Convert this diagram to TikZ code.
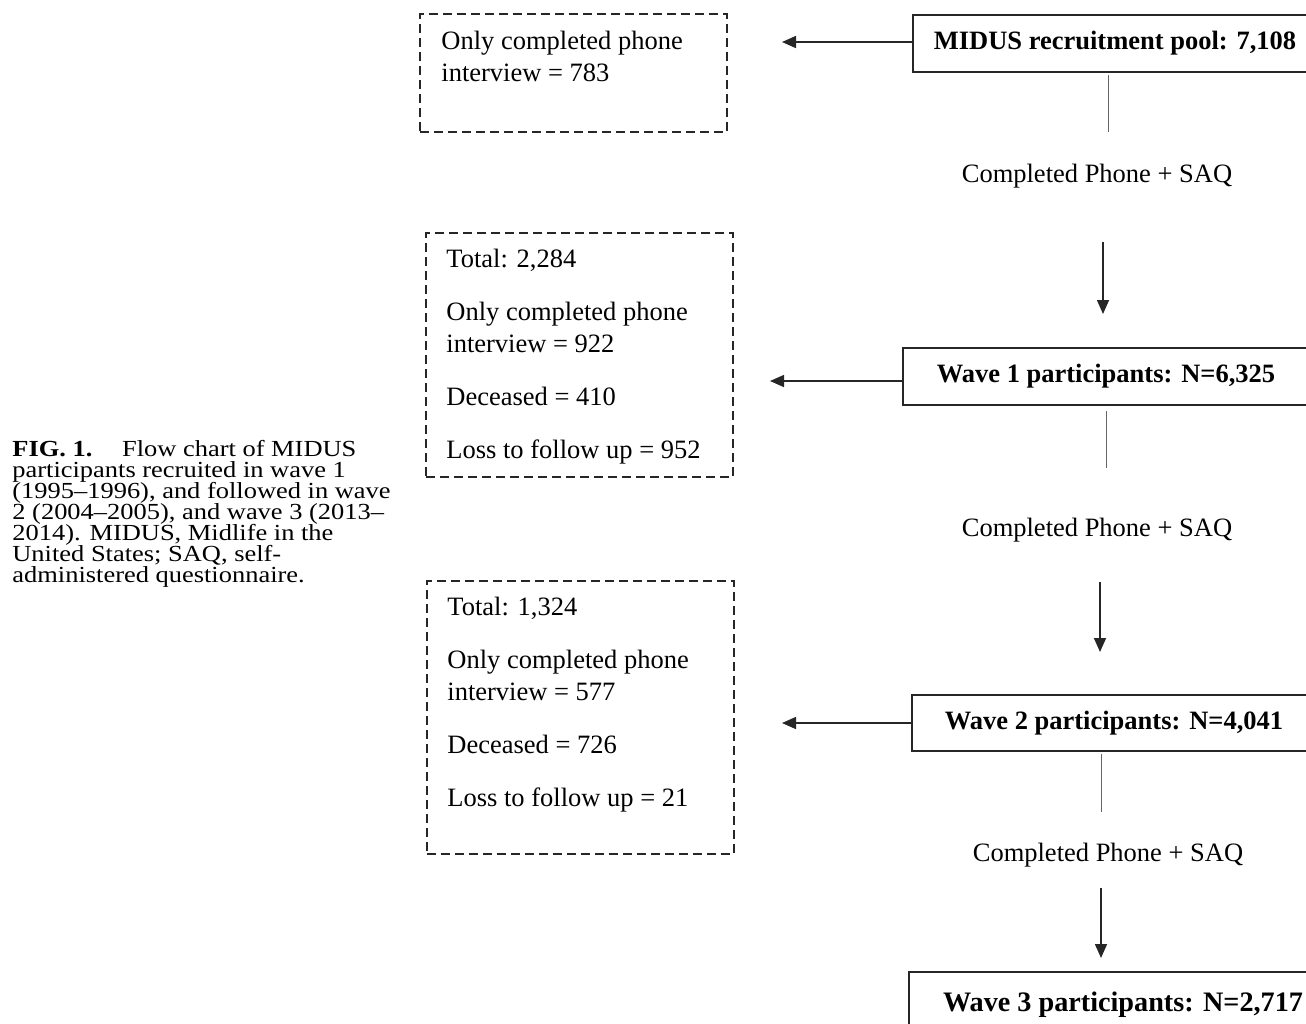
\documentclass[tikz,border=0pt]{standalone}
\usepackage{fontspec}
\setmainfont{Liberation Serif}
\newfontfamily\capfont[FakeStretch=1.15]{Liberation Serif}
\usetikzlibrary{arrows.meta}
\begin{document}
\lineskiplimit=-100pt
\begin{tikzpicture}[x=0.5pt,y=-0.5pt,
  solidbox/.style={draw=black!85, line width=1pt, inner sep=0pt, font=\fontsize{13.25}{15.9}\selectfont\bfseries},
  dashbox/.style={draw=black!85, line width=1pt, dash pattern=on 4.5pt off 2.5pt, inner sep=0pt},
  txt/.style={inner sep=0pt, anchor=base west, font=\fontsize{13.25}{15.9}\selectfont},
  lbl/.style={inner sep=0pt, font=\fontsize{13.25}{15.9}\selectfont},
  arr/.style={draw=black!85, line width=0.75pt, -{Triangle[length=7pt,width=6pt]}},
  conn/.style={draw=black!60, line width=0.5pt},
  captxt/.style={inner sep=0pt, anchor=base west, align=left, font=\capfont\fontsize{11.5}{10.5}\selectfont}
]
\useasboundingbox (0,0) rectangle (1306,1023);

% caption (base anchor = baseline of last line)
\node[captxt] (cap) at (12,582) {\textbf{FIG. 1.}\quad\ Flow chart of MIDUS\\
participants recruited in wave 1\\
(1995–1996), and followed in wave\\
2 (2004–2005), and wave 3 (2013–\\
2014). MIDUS, Midlife in the\\
United States; SAQ, self-\\
administered questionnaire.};

% solid boxes
\node[solidbox, minimum width=202pt, minimum height=28.5pt] (m0) at (1115,43.5) {MIDUS recruitment pool: 7,108};
\node[solidbox, minimum width=203pt, minimum height=28.5pt] (w1) at (1106,376.5) {Wave 1 participants: N=6,325};
\node[solidbox, minimum width=202pt, minimum height=28pt] (w2) at (1114,723) {Wave 2 participants: N=4,041};
\node[solidbox, minimum width=214pt, minimum height=33pt, font=\fontsize{14.1}{17}\selectfont\bfseries] (w3) at (1123,1005) {Wave 3 participants: N=2,717};

% dashed boxes
\node[dashbox, minimum width=153.5pt, minimum height=59pt] (d1) at (573.5,73) {};
\node[dashbox, minimum width=153.5pt, minimum height=122pt] (d2) at (579.5,355) {};
\node[dashbox, minimum width=153.5pt, minimum height=136.5pt] (d3) at (580.5,717.5) {};

% dashed box texts
\node[txt] (d1a) at (441,49) {Only completed phone};
\node[txt] (d1b) at (441,81) {interview = 783};

\node[txt] (d2a) at (446,267) {Total: 2,284};
\node[txt] (d2b) at (446,320) {Only completed phone};
\node[txt] (d2c) at (446,352) {interview = 922};
\node[txt] (d2d) at (446,405) {Deceased = 410};
\node[txt] (d2e) at (446,458) {Loss to follow up = 952};

\node[txt] (d3a) at (447,615) {Total: 1,324};
\node[txt] (d3b) at (447,668) {Only completed phone};
\node[txt] (d3c) at (447,700) {interview = 577};
\node[txt] (d3d) at (447,753) {Deceased = 726};
\node[txt] (d3e) at (447,806) {Loss to follow up = 21};

% labels
\node[lbl] (c1) at (1097,176) {Completed Phone + SAQ};
\node[lbl] (c2) at (1097,530) {Completed Phone + SAQ};
\node[lbl] (c3) at (1108,855) {Completed Phone + SAQ};

% left arrows
\coordinate (t1) at (782,42);
\coordinate (t2) at (770,381);
\coordinate (t3) at (782,723);
\draw[arr] (m0.west |- t1) -- (t1);
\draw[arr] (w1.west |- t2) -- (t2);
\draw[arr] (w2.west |- t3) -- (t3);

% vertical connectors
\coordinate (v1) at (1108,132);
\coordinate (v2) at (1106,468);
\coordinate (v3) at (1101,812);
\draw[conn] ([yshift=-1pt]m0.south -| v1) -- (v1);
\draw[conn] ([yshift=-2.5pt]w1.south -| v2) -- (v2);
\draw[conn] ([yshift=-1pt]w2.south -| v3) -- (v3);

% down arrows
\coordinate (a1s) at (1103,242); \coordinate (a1e) at (1103,314);
\coordinate (a2s) at (1100,582); \coordinate (a2e) at (1100,652);
\coordinate (a3s) at (1101,888); \coordinate (a3e) at (1101,958);
\draw[arr] (a1s) -- (a1e);
\draw[arr] (a2s) -- (a2e);
\draw[arr] (a3s) -- (a3e);
\end{tikzpicture}
\end{document}
